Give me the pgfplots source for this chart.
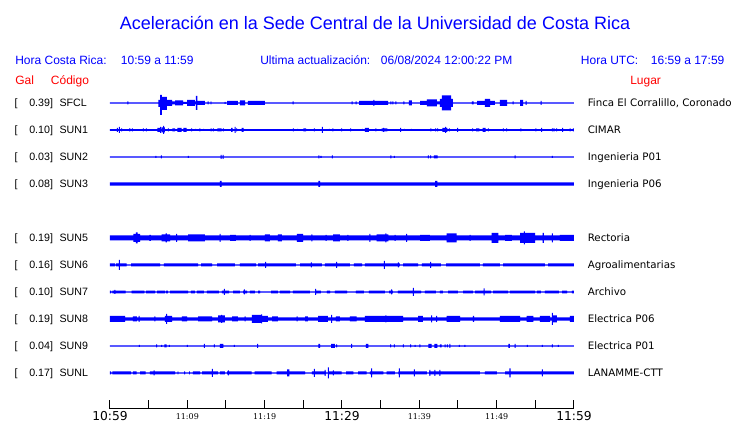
\documentclass[border=0pt]{standalone}
\usepackage{fontspec}
\setmainfont{Liberation Sans}
\newfontfamily\dejavu{DejaVu Sans}
\newfontfamily\dejaserif{DejaVu Serif}
\usepackage{pgfplots}
\usepackage{pgfplotstable}
\pgfplotsset{compat=1.18}
\usepgfplotslibrary{fillbetween}
\definecolor{tblue}{RGB}{0,0,255}
\definecolor{tred}{RGB}{255,0,0}

% SFCL: t (min), up, down (half-amplitudes)
\pgfplotstableread{
t u d
0 0.6 0.6
2.26 1.5 1.5
2.39 0.6 0.6
6.27 3 4
6.47 8 12
6.72 6 7
7.37 3 3
8.02 1.5 1.5
8.41 2.5 2.5
9.44 1 1
9.96 3 3
10.99 1.5 1.5
11.12 7 7
11.31 2 2
12.28 0.6 0.6
12.61 1.5 1.5
12.74 0.6 0.6
13.00 1.5 1.5
13.12 0.6 0.6
14.81 1 1
14.94 0.6 0.6
15.13 2 2
16.55 0.6 0.6
16.81 2.5 2.5
17.46 0.6 0.6
17.84 2 2
20.04 0.6 0.6
23.60 1.5 1.5
23.73 0.6 0.6
31.23 1.5 1.5
31.36 0.6 0.6
31.75 1.5 1.5
31.88 0.6 0.6
32.20 2 2
34.07 3 3
34.20 2 2
35.95 0.6 0.6
36.26 1.5 1.5
36.39 0.6 0.6
36.52 1.5 1.5
36.65 0.6 0.6
36.91 1.5 1.5
37.04 0.6 0.6
37.95 1.5 1.5
38.08 0.6 0.6
38.66 2.5 2.5
39.05 0.6 0.6
40.09 2 2
40.99 3.5 3.5
42.28 1.5 1.5
42.67 4 4
42.93 7.5 7.5
44.10 4 4
44.35 0.6 0.6
46.81 1.5 1.5
47.01 0.6 0.6
47.46 2 2
48.49 4 4
49.14 2 2
49.78 0.6 0.6
50.43 3 3
51.34 0.6 0.6
52.05 1.5 1.5
52.18 0.6 0.6
53.02 3 3
53.41 0.6 0.6
53.73 2 2
53.86 0.6 0.6
55.67 2 2
55.80 0.6 0.6
60 0.6 0.6
}\sfcl

\pgfplotstableread{
t a
0 0.8
0.88 2
1.01 0.8
1.14 3
1.27 0.8
1.45 1.5
1.58 0.8
2.46 1.5
2.62 0.8
2.82 1.5
2.95 0.8
4.24 1.5
4.37 0.8
4.63 1.5
4.76 0.8
6.12 2
6.47 3
6.60 0.8
6.69 2.5
6.88 4
7.01 2.5
7.11 0.8
7.48 1.5
7.61 0.8
8.06 1.5
8.41 0.8
8.70 2
9.27 0.8
9.48 2
9.92 0.8
10.50 1.5
10.63 0.8
11.02 1
11.15 0.8
11.57 1.5
11.70 0.8
12.05 1
12.18 0.8
13.00 1.5
13.13 0.8
13.29 1.5
13.42 0.8
13.87 1.5
14.44 0.8
14.59 1.5
14.72 0.8
15.65 2
15.87 0.8
16.10 3
16.23 0.8
16.32 1.5
16.45 0.8
17.03 2
17.29 0.8
23.64 1.5
23.77 0.8
24.21 1
24.34 0.8
25.02 1.5
25.37 0.8
26.35 1.5
26.48 0.8
27.39 3
27.52 0.8
28.29 1
28.42 0.8
28.77 1.5
28.90 0.8
29.90 1.5
30.03 0.8
31.06 1.5
31.19 0.8
32.56 1
32.69 0.8
32.97 2
33.49 0.8
34.33 1.5
34.46 0.8
35.13 1.5
35.33 2
35.46 1.5
35.86 0.8
37.53 2
37.66 0.8
37.99 1
38.12 0.8
38.90 1
39.03 0.8
41.44 1.5
41.57 0.8
42.05 1.5
42.18 0.8
42.31 1.5
42.44 0.8
42.97 2
43.35 3
43.48 2
43.62 0.8
43.81 1.5
43.94 0.8
44.90 2
45.03 0.8
46.84 1.5
46.97 0.8
47.33 1.5
47.75 0.8
48.19 2
48.58 0.8
48.85 1.5
48.98 0.8
50.79 1.5
50.92 0.8
51.23 1.5
51.36 0.8
53.08 1.5
53.21 0.8
55.02 1.5
55.15 0.8
55.76 2
55.89 0.8
57.13 1.5
57.26 0.8
57.35 1.5
57.48 0.8
57.70 1.5
57.83 0.8
58.47 2
58.60 0.8
59.42 1.5
59.55 0.8
59.87 1.5
60 1.5
}\sunone

\pgfplotstableread{
t a
0 0.6
5.88 1
6.01 0.6
6.57 1.5
6.70 0.6
10.06 1
10.19 0.6
14.29 2
14.42 0.6
14.55 2
14.68 0.6
26.96 1.5
27.09 0.6
27.22 1
27.35 0.6
28.68 1.5
28.81 0.6
36.27 1.5
36.40 0.6
36.70 1
36.83 0.6
41.10 1.5
41.23 0.6
41.41 1.5
41.54 0.6
41.87 1.5
42.35 0.6
52.31 1.5
52.44 0.6
57.13 1
57.26 0.6
60 0.6
}\suntwo

\pgfplotstableread{
t a
0 1.7
14.22 3
14.44 1.7
26.94 3
27.16 1.7
42.03 3
42.32 1.7
60 1.7
}\sunthree

\pgfplotstableread{
t a
0 2.5
3.01 4
3.36 5.5
3.56 4
3.88 2.5
5.10 3
5.30 2.5
6.69 3.5
7.18 4.5
7.37 3.5
7.76 2.5
8.56 4
8.69 2.5
10.09 3.5
12.28 2.5
14.16 4
14.29 2.5
15.52 3
16.29 2.5
18.04 3
18.17 2.5
20.04 3.5
20.69 2.5
21.72 3.5
22.24 2.5
24.18 4
24.96 2.5
26.05 3.5
26.18 2.5
27.87 3
28.00 2.5
28.84 3.5
29.74 2.5
30.71 3
30.84 2.5
33.55 4
33.68 2.5
34.49 3.5
35.62 4.5
35.75 3.5
35.99 2.5
36.79 3
36.92 2.5
38.30 4
38.43 2.5
40.09 3
41.38 2.5
43.54 4.5
44.83 2.5
46.49 3
46.62 2.5
49.36 5
50.21 2.5
51.08 3
51.98 2.5
53.02 5
53.51 6.5
53.64 5
54.96 2.5
55.96 5
56.09 2.5
57.13 4.5
57.26 2.5
58.19 3
60 3
}\sunfive

\pgfplotstableread{
t a
0 1.5
0.65 0.6
0.78 1.5
1.14 5
1.27 1.5
2.16 0.6
2.72 1.5
6.47 0.6
6.98 1.5
11.38 0.6
11.77 1.5
13.19 0.6
13.84 1.5
16.16 0.6
16.81 1.5
18.88 0.6
19.14 1.5
20.07 3
20.20 1.5
24.05 0.6
24.57 1.5
25.99 2.5
26.12 1.5
27.41 0.6
27.80 1.5
29.25 3
29.38 1.5
31.03 0.6
31.55 1.5
32.59 0.6
32.97 1.5
35.40 4
35.53 1.5
37.21 2.5
37.34 1.5
37.50 0.6
37.89 1.5
39.83 0.6
40.34 1.5
41.41 3
41.54 1.5
42.80 0.6
43.45 1.5
47.84 0.6
48.23 1.5
50.43 0.6
50.82 1.5
56.25 0.6
56.64 1.5
60 1.5
}\sunsix

\pgfplotstableread{
t a
0 1.3
0.13 0.6
0.32 1.3
0.58 2
0.71 1.3
2.03 0.6
2.81 1.3
4.44 0.6
4.66 1.3
5.82 0.6
6.08 1.3
7.11 0.6
7.24 1.3
7.50 0.6
7.76 1.3
10.09 0.6
10.47 1.3
10.99 0.6
11.25 1.3
12.15 0.6
12.54 1.3
14.09 0.6
14.48 1.3
14.72 3
14.85 1.3
15.39 0.6
15.91 1.3
16.81 0.6
17.20 1.3
17.30 2.5
17.43 1.3
17.72 0.6
18.10 1.3
18.75 0.6
19.14 1.3
19.40 0.6
20.82 1.3
21.72 0.6
21.98 1.3
23.28 0.6
23.66 1.3
25.86 0.6
26.53 3
26.66 1.3
27.28 0.6
28.06 1.3
28.45 0.6
29.09 1.3
30.65 0.6
31.81 1.3
32.84 0.6
33.49 1.3
35.56 0.6
36.08 1.3
36.36 2.5
36.49 1.3
36.59 0.6
37.24 1.3
39.15 4
39.28 1.3
40.22 0.6
40.73 1.3
42.15 0.6
42.67 1.3
43.06 0.6
43.71 1.3
45.00 0.6
45.65 1.3
46.94 0.6
47.20 1.3
48.30 3.5
48.43 1.3
49.27 0.6
49.53 1.3
51.47 0.6
51.72 1.3
54.96 0.6
55.21 1.3
55.73 0.6
56.25 1.3
58.06 0.6
58.45 1.3
59.10 0.6
59.74 1.3
60 1.3
}\sunseven

\pgfplotstableread{
t a
0 3
1.94 1.7
2.97 2.5
3.49 1.7
3.69 3
3.82 1.7
5.75 2.5
5.88 1.7
7.11 3
7.27 5
7.40 3
8.02 1.7
9.31 2.5
9.96 1.7
11.38 2.5
13.19 1.7
13.97 3.5
14.38 4
14.51 3.5
14.87 1.7
15.78 2.5
16.55 1.7
17.40 2.5
17.53 1.7
18.36 4
19.55 4.5
19.68 3
20.43 1.7
20.95 2.5
21.72 1.7
24.12 2.5
24.25 1.7
25.22 2.5
25.60 1.7
26.90 3
28.19 1.7
28.60 4
28.73 1.7
29.22 2.5
29.74 1.7
31.03 2.5
31.90 1.7
32.97 3
35.62 3.5
35.75 3
37.89 1.7
39.83 3
40.47 1.7
41.54 3.5
41.67 1.7
42.18 3
42.31 1.7
43.54 3
45.26 1.7
46.94 3
47.07 1.7
50.43 3
53.02 1.7
53.88 3
54.74 1.7
55.60 3
56.90 1.7
57.13 6
57.26 3.5
57.80 1.7
59.48 3
60 3
}\suneight

\pgfplotstableread{
t a
0 0.6
3.72 1
3.85 0.6
5.97 1.5
6.10 0.6
6.62 1
6.75 0.6
7.02 1.5
7.33 0.6
7.60 1
7.73 0.6
9.93 1
10.06 0.6
12.13 2
12.28 0.6
13.42 1.5
13.55 0.6
14.22 2
14.65 0.6
16.01 1
16.14 0.6
19.03 2
19.16 0.6
26.94 2
27.16 0.6
28.60 2
29.09 0.6
29.25 1.5
29.38 0.6
31.19 2
31.32 0.6
33.10 2
33.40 0.6
36.23 1.5
36.36 0.6
36.70 1.5
36.83 0.6
37.86 1.5
37.99 0.6
38.82 1.5
38.95 0.6
39.38 1
39.51 0.6
40.02 1.5
40.15 0.6
41.16 2
41.60 0.6
41.94 2
42.32 0.6
42.67 1.5
42.89 0.6
43.26 1.5
43.39 0.6
43.55 1.5
43.68 0.6
43.90 2
44.03 0.6
45.10 1
45.23 0.6
45.84 1
45.97 0.6
51.50 2
51.72 0.6
52.31 2
52.44 0.6
53.90 1
54.03 0.6
55.84 1
55.97 0.6
57.13 1.5
57.26 0.6
57.90 1
58.03 0.6
60 0.6
}\sunnine

\pgfplotstableread{
t a
0 1.5
0.13 0.6
0.30 1.5
2.72 0.6
2.97 1.5
3.45 0.6
3.88 1.5
4.62 0.6
5.17 1.5
5.63 2.5
5.76 1.5
8.41 0.6
8.75 1.5
8.83 0.6
9.57 1.5
9.70 0.6
10.22 1.5
10.34 0.6
10.73 1.5
11.64 0.6
11.90 1.5
13.16 4
13.29 1.5
13.97 0.6
14.22 1.5
14.87 0.6
15.13 1.5
15.23 2.5
15.36 1.5
18.32 0.6
18.71 1.5
20.91 0.6
21.56 1.5
22.91 3.5
23.21 1.5
25.22 0.6
26.12 1.5
26.35 4
26.48 1.5
27.74 3
27.87 1.5
27.95 0.6
28.16 5.5
28.29 1.5
28.81 2.5
28.94 1.5
29.96 0.6
30.52 1.5
31.46 0.6
32.07 1.5
33.19 0.6
33.62 1.5
33.77 4.5
33.90 1.5
35.34 0.6
35.78 1.5
36.85 0.6
37.30 1.5
37.34 4.5
37.47 1.5
39.31 3.5
39.44 1.5
40.99 0.6
41.28 1.5
41.31 3
41.44 1.5
41.96 3
42.09 1.5
42.60 3
42.73 1.5
47.84 0.6
48.49 1.5
50.04 0.6
51.08 1.5
51.66 4.5
51.79 1.5
55.84 3.5
55.97 1.5
60 1.5
}\sunl

\newcommand{\trace}[3]{%
  \addplot[name path=u#3, const plot, draw=none, forget plot] table[x=t, y expr={#2+\thisrow{a}}] {#1};
  \addplot[name path=l#3, const plot, draw=none, forget plot] table[x=t, y expr={#2-\thisrow{a}}] {#1};
  \addplot[fill=tblue, draw=none, forget plot] fill between[of=u#3 and l#3];
}

\begin{document}
\begin{tikzpicture}
\begin{axis}[
  scale only axis, width=348pt, height=240.75pt,
  xmin=0, xmax=60, ymin=-409, ymax=-88,
  enlargelimits=false,
  axis x line*=bottom, axis y line=none,
  axis line style={black, line width=0.75pt},
  xtick={0,5,...,60},
  xticklabels={{\dejavu\fontsize{9.2}{10}\selectfont 10:59},{},
    {\dejaserif\fontsize{6}{7}\selectfont 11:09},{},
    {\dejaserif\fontsize{6}{7}\selectfont 11:19},{},
    {\dejavu\fontsize{9.2}{10}\selectfont 11:29},{},
    {\dejaserif\fontsize{6}{7}\selectfont 11:39},{},
    {\dejaserif\fontsize{6}{7}\selectfont 11:49},{},
    {\dejavu\fontsize{9.2}{10}\selectfont 11:59}},
  xticklabel style={anchor=center, yshift=-5.6pt, inner sep=0pt},
  tick align=inside, major tick length=6.4pt,
  tick style={black, line width=0.75pt},
  ytick=\empty,
]
\addplot[name path=us, const plot, draw=none, forget plot] table[x=t, y expr={-103+\thisrow{u}}] {\sfcl};
\addplot[name path=ls, const plot, draw=none, forget plot] table[x=t, y expr={-103-\thisrow{d}}] {\sfcl};
\addplot[fill=tblue, draw=none, forget plot] fill between[of=us and ls];
\trace{\sunone}{-130}{a}
\trace{\suntwo}{-157}{b}
\trace{\sunthree}{-184}{c}
\trace{\sunfive}{-238}{e}
\trace{\sunsix}{-265}{f}
\trace{\sunseven}{-292}{g}
\trace{\suneight}{-319}{h}
\trace{\sunnine}{-346}{i}
\trace{\sunl}{-373}{j}
\coordinate (O) at (rel axis cs:0,0);
\end{axis}

\begin{scope}[shift={(O)}, x=0.75pt, y=0.75pt, shift={(-110,409)}]
\path (0,0) rectangle (740,-423);
% Title and header
\node[anchor=base, inner sep=0, text=tblue, font=\fontsize{13.5}{16}\selectfont] at (375,-30) {Aceleración en la Sede Central de la Universidad de Costa Rica};
\begin{scope}[every node/.style={anchor=base west, inner sep=0, text=tblue, font=\fontsize{9}{11}\selectfont}]
\node at (15,-65) {Hora Costa Rica:};
\node at (120.7,-65) {10:59 a 11:59};
\node at (260,-65) {Ultima actualización:};
\node at (380.7,-65) {06/08/2024 12:00:22 PM};
\node at (580.7,-65) {Hora UTC:};
\node at (650.7,-65) {16:59 a 17:59};
\end{scope}
\begin{scope}[every node/.style={anchor=base west, inner sep=0, text=tred, font=\fontsize{9}{11}\selectfont}]
\node at (15,-84.5) {Gal};
\node at (50.7,-84.5) {Código};
\node at (630,-84.5) {Lugar};
\end{scope}
% Station labels
\foreach \yy/\val/\code/\lugar in {
  103/0.39/SFCL/{Finca El Corralillo, Coronado},
  130/0.10/SUN1/CIMAR,
  157/0.03/SUN2/Ingenieria P01,
  184/0.08/SUN3/Ingenieria P06,
  238/0.19/SUN5/Rectoria,
  265/0.16/SUN6/Agroalimentarias,
  292/0.10/SUN7/Archivo,
  319/0.19/SUN8/Electrica P06,
  346/0.04/SUN9/Electrica P01,
  373/0.17/SUNL/LANAMME-CTT}{
  \node[anchor=base west, inner sep=0, font=\fontsize{8}{10}\selectfont] at (14.3,-\yy-3.8) {[};
  \node[anchor=base east, inner sep=0, font=\fontsize{8}{10}\selectfont] at (53.3,-\yy-3.8) {\val]};
  \node[anchor=base west, inner sep=0, font=\fontsize{8}{10}\selectfont] at (59.3,-\yy-3.8) {\code};
  \node[anchor=base west, inner sep=0, font=\dejavu\fontsize{7.7}{9}\selectfont] at (587.5,-\yy-3.8) {\lugar};
}
\end{scope}
\end{tikzpicture}
\end{document}
